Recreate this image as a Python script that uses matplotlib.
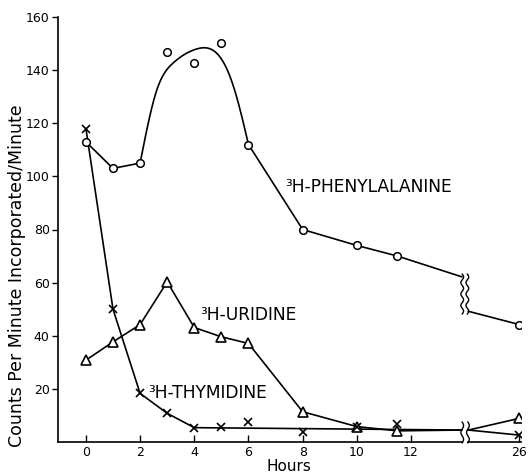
import numpy as np
import matplotlib
matplotlib.use("Agg")
import matplotlib.pyplot as plt


# sampling times (hours); 26 h sits past the axis break
hours = [0, 1, 2, 3, 4, 5, 6, 8, 10, 11.5]
late_hour = 26

phe_values = [113, 103, 105, 146.7, 142.7, 150.3, 112, 80, 74, 70]
phe_late = 44.2
phe_break = [62.2, 49.2]

# hand drawn smooth fit through the 2-6 h peak
phe_fit_hours = [2, 2.6, 3.2, 4.1, 4.96, 5.33, 5.6, 6]
phe_fit_values = [105, 132, 142.5, 148, 144.8, 137.3, 128.6, 112]

uri_values = [30.8, 37.7, 44.2, 60.3, 43.1, 39.6, 37.1, 11.4, 5.8, 4.2]
uri_late = 8.9
uri_break = [4.5, 4.5]

thy_values = [118, 50, 18.3, 10.8, 5.4, 5.8, 7.6, 3.9, 5.8, 6.6]
thy_late = 2.6
thy_break = [4.5, 4.5]
thy_fit_values = [5.4, 4.5]  # flat line from 4 h to the break

x_tick_hours = [0, 2, 4, 6, 8, 10, 12, 26]
y_ticks = [20, 40, 60, 80, 100, 120, 140, 160]

BREAK_LEFT = 13.87
BREAK_RIGHT = 14.12
X_MIN, X_MAX = -1.03, 16.06
LW = 1.2


def to_axis(h):
    h = np.asarray(h, dtype=float)
    return np.where(h <= 14, h, 14 + (h - 14) / 6)


def natural_spline(xs, ys, n=300):
    xs = np.asarray(xs, float)
    ys = np.asarray(ys, float)
    npts = len(xs)
    h = np.diff(xs)
    A = np.zeros((npts, npts))
    b = np.zeros(npts)
    A[0, 0] = A[-1, -1] = 1
    for i in range(1, npts - 1):
        A[i, i - 1] = h[i - 1]
        A[i, i] = 2 * (h[i - 1] + h[i])
        A[i, i + 1] = h[i]
        b[i] = 6 * ((ys[i + 1] - ys[i]) / h[i] - (ys[i] - ys[i - 1]) / h[i - 1])
    M = np.linalg.solve(A, b)
    xx = np.linspace(xs[0], xs[-1], n)
    k = np.clip(np.searchsorted(xs, xx) - 1, 0, npts - 2)
    a = xs[k + 1] - xx
    c = xx - xs[k]
    hk = h[k]
    yy = (M[k] * a ** 3 / (6 * hk) + M[k + 1] * c ** 3 / (6 * hk)
          + (ys[k] / hk - M[k] * hk / 6) * a + (ys[k + 1] / hk - M[k + 1] * hk / 6) * c)
    return xx, yy


def squiggle(ax, x0, y0, y1, amp=0.06, waves=3):
    y = np.linspace(y0, y1, 80)
    x = x0 + amp * np.sin(np.linspace(0, waves * 2 * np.pi, 80))
    ax.plot(x, y, color="black", lw=1.0, clip_on=False)


def draw_series(ax, values, late, brk, marker, ms, mfc="white", connect_to=None):
    x = to_axis(hours)
    n = len(hours) if connect_to is None else connect_to
    ax.plot(x[:n], values[:n], color="black", lw=LW)
    if connect_to is None:
        ax.plot([x[-1], BREAK_LEFT], [values[-1], brk[0]], color="black", lw=LW)
    ax.plot([BREAK_RIGHT, to_axis(late_hour)], [brk[1], late], color="black", lw=LW)
    ax.plot(list(x) + [to_axis(late_hour)], list(values) + [late], linestyle="none",
            marker=marker, ms=ms, mfc=mfc, mec="black", mew=1.2, color="black", zorder=5)


fig = plt.figure(figsize=(5.28, 4.74), dpi=100)
ax = fig.add_axes([58 / 528, 32 / 474, (521 - 58) / 528, 425 / 474])

# phenylalanine: straight segments with a smooth curve over the peak
x = to_axis(hours)
ax.plot(x[:3], phe_values[:3], color="black", lw=LW)
fx, fy = natural_spline(phe_fit_hours, phe_fit_values)
ax.plot(fx, fy, color="black", lw=LW)
ax.plot(x[6:], phe_values[6:], color="black", lw=LW)
ax.plot([x[-1], BREAK_LEFT], [phe_values[-1], phe_break[0]], color="black", lw=LW)
ax.plot([BREAK_RIGHT, to_axis(late_hour)], [phe_break[1], phe_late], color="black", lw=LW)
ax.plot(list(x) + [to_axis(late_hour)], phe_values + [phe_late], linestyle="none",
        marker="o", ms=5.5, mfc="white", mec="black", mew=1.1, zorder=5)
squiggle(ax, BREAK_LEFT + 0.02, phe_break[1] - 1, phe_break[0] + 1, amp=0.05, waves=3.5)
squiggle(ax, BREAK_RIGHT - 0.04, phe_break[1] - 1, phe_break[0] + 1, amp=0.05, waves=3.5)

# uridine
draw_series(ax, uri_values, uri_late, uri_break, "^", 6.5)

# thymidine: joined to 4 h, then a flat fit line
draw_series(ax, thy_values, thy_late, thy_break, "x", 6, mfc="black", connect_to=5)
ax.plot([x[4], BREAK_LEFT], thy_fit_values, color="black", lw=LW)

# labels on the curves
ax.text(7.37, 96, "³H-PHENYLALANINE", fontsize=12.3, va="center", ha="left")
ax.text(4.22, 47.7, "³H-URIDINE", fontsize=12.3, va="center", ha="left")
ax.text(2.3, 18.3, "³H-THYMIDINE", fontsize=12.3, va="center", ha="left")

# axes
ax.set_xlim(X_MIN, X_MAX)
ax.set_ylim(0, 160)
for side in ["top", "right", "bottom"]:
    ax.spines[side].set_visible(False)
ax.spines["left"].set_linewidth(LW)
ax.plot([X_MIN, BREAK_LEFT], [0, 0], color="black", lw=LW, clip_on=False)
ax.plot([BREAK_RIGHT, X_MAX], [0, 0], color="black", lw=LW, clip_on=False)
squiggle(ax, BREAK_LEFT + 0.02, -0.3, 7.5, amp=0.05, waves=1.5)
squiggle(ax, BREAK_RIGHT - 0.02, -0.3, 7.5, amp=0.05, waves=1.5)

ax.set_xticks(to_axis(x_tick_hours))
ax.set_xticklabels([str(h) for h in x_tick_hours])
ax.set_yticks(y_ticks)
ax.tick_params(axis="x", direction="in", length=5, width=1, pad=3, labelsize=9)
ax.tick_params(axis="y", direction="out", length=4, width=1, pad=2, labelsize=9)

fig.text(289 / 528, 1 - 459 / 474, "Hours", fontsize=11, ha="center", va="top")
fig.text(17 / 528, 1 - 276 / 474, "Counts Per Minute Incorporated/Minute",
         fontsize=12.5, rotation=90, ha="center", va="center")

plt.savefig("out.png", dpi=100)
plt.close()
